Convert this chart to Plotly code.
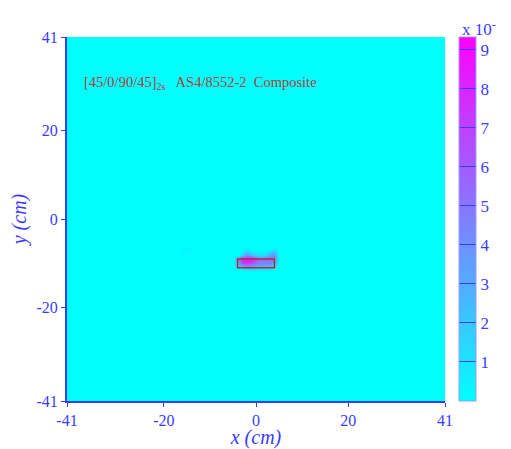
import numpy as np
import plotly.graph_objects as go

# grid (cm)
x_grid = list(range(-41, 42))
y_grid = list(range(-41, 42))

# hotspot cells: (x cm, y cm, value x10^-)
hot_x = [-4, -3, -2, -1, 0, 1, 2, 3, 4,
         -4, -3, -2, -1, 0, 1, 2, 3, 4,
         -3, -2, -1, 0, 1, 2, 3, 4,
         -3, -2, -1, 0, 1, 2, 3,
         -2, 4, -16, -15, -14]
hot_y = [-9, -9, -9, -9, -9, -9, -9, -9, -9,
         -10, -10, -10, -10, -10, -10, -10, -10, -10,
         -8, -8, -8, -8, -8, -8, -8, -8,
         -11, -11, -11, -11, -11, -11, -11,
         -7, -7, -7, -7, -7]
hot_v = [4.0, 8.0, 9.3, 9.0, 6.5, 5.0, 5.0, 5.5, 4.5,
         3.0, 6.5, 7.0, 6.5, 5.0, 4.5, 4.5, 4.5, 3.0,
         1.5, 4.0, 2.5, 1.5, 1.0, 1.5, 3.5, 4.0,
         1.0, 2.0, 2.0, 1.5, 1.5, 1.5, 1.5,
         1.0, 1.5, 0.3, 0.4, 0.3]

# rectangle outline (cm)
rect_x = [-4, 4]
rect_y = [-11, -9]

tick_vals = [-41, -20, 0, 20, 41]
tick_text = ["-41", "-20", "0", "20", "41"]
cb_ticks = [1, 2, 3, 4, 5, 6, 7, 8, 9]

z = np.zeros((len(y_grid), len(x_grid)))
for xv, yv, v in zip(hot_x, hot_y, hot_v):
    z[y_grid.index(yv), x_grid.index(xv)] = v

blue = "#3b3bff"
fig = go.Figure()
fig.add_trace(go.Heatmap(
    x=x_grid, y=y_grid, z=z, zmin=0, zmax=9.33, zsmooth="best",
    colorscale=[[0, "#00ffff"], [1, "#ff00ff"]],
    colorbar=dict(
        x=1.037, xanchor="left", y=0.5, yanchor="middle", len=1.0, lenmode="fraction",
        thickness=17, xpad=0, ypad=0,
        outlinewidth=1, outlinecolor="#9999ff",
        tickvals=cb_ticks, ticks="inside", ticklen=17,
        tickcolor=blue, tickfont=dict(family="Liberation Serif", size=17, color=blue),
    ),
))
fig.add_shape(type="rect", x0=rect_x[0], x1=rect_x[1], y0=rect_y[0], y1=rect_y[1],
              line=dict(color="#b03030", width=1.5))
fig.add_annotation(x=0.04, y=0.874, xref="paper", yref="paper", xanchor="left",
                   yanchor="middle", showarrow=False,
                   text="[45/0/90/45]<sub>2s</sub>   AS4/8552-2  Composite",
                   font=dict(family="Liberation Serif", size=14.5, color="#b03c3c"))
fig.add_annotation(x=1.04, y=1.0, xref="paper", yref="paper", xanchor="left",
                   yanchor="bottom", showarrow=False, text="x 10<sup>-</sup>", yshift=-4,
                   font=dict(family="Liberation Serif", size=17, color=blue))

axis_common = dict(
    tickvals=tick_vals, ticktext=tick_text, showgrid=False, zeroline=False,
    showline=True, linecolor=blue, linewidth=2, ticks="outside", ticklen=4,
    tickcolor=blue, tickfont=dict(family="Liberation Serif", size=16, color=blue),
    range=[-41, 41],
)
fig.update_xaxes(**axis_common, title=dict(text="<i>x (cm)</i>", standoff=3,
                 font=dict(family="Liberation Serif", size=20, color=blue)))
fig.update_yaxes(**axis_common, title=dict(text="<i>y (cm)</i>", standoff=10,
                 font=dict(family="Liberation Serif", size=20, color=blue)))
fig.update_layout(width=503, height=441,
                  margin=dict(l=59, r=66, t=29, b=48, autoexpand=False),
                  paper_bgcolor="white", plot_bgcolor="white")
fig.write_html("out.html")
